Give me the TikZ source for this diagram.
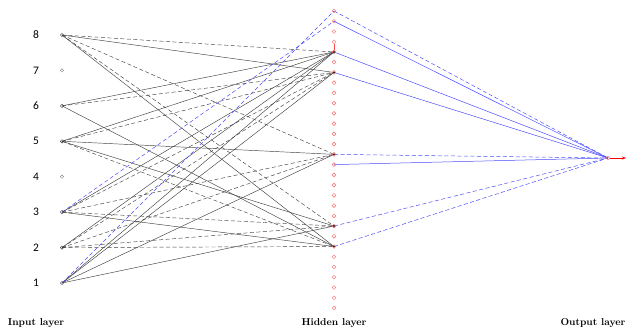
\documentclass[tikz,border=0pt]{standalone}
\usepackage{fontspec}
\newfontfamily\numfont{Carlito}
\usetikzlibrary{arrows.meta}
\pgfdeclarelayer{bg}
\pgfsetlayers{bg,main}
\begin{document}
\begin{tikzpicture}[x=1pt,y=-1pt,
  conn/.style={black!75, line width=0.45pt},
  connd/.style={conn, dash pattern=on 4pt off 2.5pt},
  blu/.style={blue!70, line width=0.5pt},
  blud/.style={blu, dash pattern=on 4pt off 2.5pt},
  inode/.style={circle, draw=black!75, line width=0.4pt, inner sep=0pt, minimum size=3.4pt},
  inodeoff/.style={inode, draw=black!45},
  hnode/.style={circle, draw=red!60, line width=0.45pt, inner sep=0pt, minimum size=3.8pt},
  hdot/.style={circle, fill=black!85, inner sep=0pt, minimum size=2.2pt},
  lab/.style={font=\bfseries},
  num/.style={font=\numfont\fontsize{11.5}{13}\selectfont}]
\useasboundingbox (0,0) rectangle (627,333);
% input layer
\foreach \k/\st in {1/inode,2/inode,3/inode,4/inodeoff,5/inode,6/inode,7/inodeoff,8/inode}{
  \node[\st] (i\k) at (62,{283-(\k-1)*35.43}) {};
  \node[num] (n\k) at (36,{283-(\k-1)*35.43}) {\k};
}
% hidden layer
\foreach \j in {0,...,29}{
  \node[hnode] (h\j) at (334,{11+\j*10.24}) {};
}
\foreach \j in {4,6,14,21,23}{
  \node[hdot] (d\j) at (h\j.center) {};
}
% output
\node[hnode] (o) at (608,158) {};
\coordinate (oe) at (626,158);
\begin{pgfonlayer}{bg}
\foreach \i/\h/\s in {8/4/connd,8/6/conn,8/14/connd,8/21/connd,8/23/conn,
  6/4/conn,6/6/connd,6/23/conn,
  5/4/conn,5/6/connd,5/14/conn,5/21/conn,5/23/connd,
  3/4/conn,3/6/connd,3/14/connd,3/21/connd,3/23/conn,
  2/4/conn,2/6/connd,2/14/connd,2/21/connd,2/23/connd,
  1/4/conn,1/6/conn,1/14/conn,1/21/conn}{
  \draw[\s] (i\i.center) -- (h\h.center);
}
\draw[blud] (i1.center) -- (h0.center);
\draw[blud] (i3.center) -- (h1.center);
\foreach \h/\s in {0/blud,1/blu,4/blu,6/blu,14/blud,15/blu,21/blud,23/blud}{
  \draw[\s] (h\h.center) -- (o.center);
}
\draw[red!70, line width=0.5pt] (h3) -- (h4);
\end{pgfonlayer}
\draw[red, line width=0.6pt, -{Stealth[length=4pt,width=3pt]}] (o) -- (oe);
% labels
\node[lab] (li) at (36,323) {Input layer};
\node[lab] (lh) at (334,323) {Hidden layer};
\node[lab] (lo) at (593,323) {Output layer};
\end{tikzpicture}
\end{document}
